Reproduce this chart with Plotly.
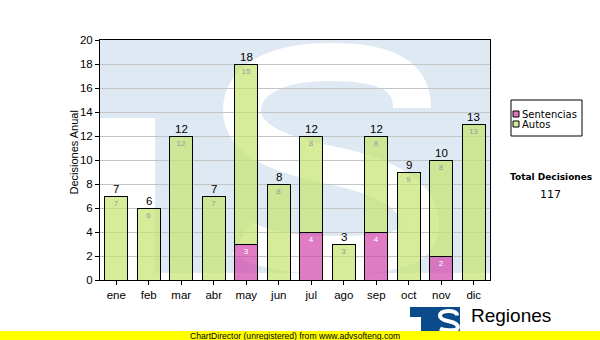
import plotly.graph_objects as go

# ---- data ----
months = ["ene", "feb", "mar", "abr", "may", "jun", "jul", "ago", "sep", "oct", "nov", "dic"]
sentencias = [0, 0, 0, 0, 3, 0, 4, 0, 4, 0, 2, 0]
autos = [7, 6, 12, 7, 15, 8, 8, 3, 8, 9, 8, 13]
series_names = ["Sentencias", "Autos"]
y_ticks = list(range(0, 21, 2))
y_title = "Decisiones Anual"
total_title = "Total Decisiones"

totals = [s + a for s, a in zip(sentencias, autos)]
grand_total = sum(totals)

# ---- geometry / style ----
W, H = 600, 340
ML, MR, MT, MB = 100, 110, 40, 60
PW, PH = W - ML - MR, H - MT - MB

PINK = "rgba(211,69,169,0.7)"
GREEN = "rgba(196,228,110,0.7)"
PINK_SWATCH = "#dd77bd"
GREEN_SWATCH = "#d5ec9a"
WM_BLUE = "#dfe9f3"
LOGO_BLUE = "#0b4a8b"
ARIAL = "Liberation Sans, Arial, sans-serif"
VERDANA = "DejaVu Sans, Verdana, sans-serif"


def px(x):
    return (x - ML) / PW


def py(y):
    return (MT + PH - y) / PH


# S-curve of the logo, as cubic bezier segments in pixel space
S_START = (412, 108)
S_CURVES = [
    [(412, 72), (380, 62), (330, 62)],
    [(272, 62), (242, 82), (242, 110)],
    [(242, 140), (280, 155), (330, 165)],
    [(385, 176), (420, 195), (420, 225)],
    [(420, 250), (390, 255), (330, 255)],
    [(292, 255), (262, 250), (242, 238)],
]


def s_path(ox=0.0, oy=0.0, k=1.0, cx=0.0, cy=0.0):
    def t(p):
        x = ox + (p[0] - cx) * k
        y = oy + (p[1] - cy) * k
        return f"{px(x):.5f},{py(y):.5f}"
    d = "M " + t(S_START)
    for seg in S_CURVES:
        d += " C " + " ".join(t(p) for p in seg)
    return d


def rect(x0, y0, x1, y1, fill, line_color=None, layer="below", lw=1):
    return dict(type="rect", xref="paper", yref="paper",
                x0=px(x0), x1=px(x1), y0=py(y1), y1=py(y0),
                fillcolor=fill, layer=layer,
                line=dict(color=line_color or fill, width=lw if line_color else 0))


shapes = [
    # watermark behind the bars
    rect(ML, MT, ML + PW, 273, WM_BLUE),
    rect(ML, 118, 155, 280, "white"),
    dict(type="path", xref="paper", yref="paper", path=s_path(0, 0, 1, 0, 0),
         line=dict(color="white", width=38), layer="below"),
    # legend box
    rect(511, 100, 582, 136, "white", "black", layer="above"),
    rect(513, 111, 519, 117, PINK_SWATCH, "black", layer="above"),
    rect(513, 121, 519, 127, GREEN_SWATCH, "black", layer="above"),
    # logo
    rect(410, 307, 460, 331, LOGO_BLUE, layer="above"),
    rect(410, 317, 421, 331, "white", layer="above"),
    dict(type="path", xref="paper", yref="paper",
         path=s_path(438, 309, 0.1, 222, 43),
         line=dict(color="white", width=4), layer="above"),
    # footer band
    rect(0, 331, 600, 340, "#ffff00", layer="above"),
]

fig = go.Figure()

fig.add_trace(go.Bar(
    x=months, y=sentencias, name=series_names[0],
    marker=dict(color=PINK, line=dict(color="black", width=1)),
    text=[str(v) if v else "" for v in sentencias],
    textposition="inside", insidetextanchor="end", textangle=0,
    textfont=dict(family=ARIAL, size=8, color="white"),
    showlegend=False, hoverinfo="x+y+name",
))
fig.add_trace(go.Bar(
    x=months, y=autos, name=series_names[1],
    marker=dict(color=GREEN, line=dict(color="black", width=1)),
    text=[str(v) if v else "" for v in autos],
    textposition="inside", insidetextanchor="end", textangle=0,
    textfont=dict(family=ARIAL, size=8, color="#9a9a9a"),
    showlegend=False, hoverinfo="x+y+name",
))

annotations = []
for m, t in zip(months, totals):
    annotations.append(dict(x=m, y=t, xref="x", yref="y", text=str(t),
                            showarrow=False, yanchor="bottom", yshift=-1,
                            font=dict(family=ARIAL, size=11.5, color="black")))

annotations += [
    dict(xref="paper", yref="paper", x=px(73.5), y=py(153), text=y_title,
         textangle=-90, showarrow=False, xanchor="center", yanchor="middle",
         font=dict(family=ARIAL, size=11, color="black")),
    dict(xref="paper", yref="paper", x=px(520), y=py(114), text=series_names[0],
         showarrow=False, xanchor="left", yanchor="middle",
         font=dict(family=VERDANA, size=10, color="black")),
    dict(xref="paper", yref="paper", x=px(520), y=py(124), text=series_names[1],
         showarrow=False, xanchor="left", yanchor="middle",
         font=dict(family=VERDANA, size=10, color="black")),
    dict(xref="paper", yref="paper", x=px(551), y=py(177), text=f"<b>{total_title}</b>",
         showarrow=False, xanchor="center", yanchor="middle",
         font=dict(family=VERDANA, size=9, color="black")),
    dict(xref="paper", yref="paper", x=px(550), y=py(194), text=str(grand_total),
         showarrow=False, xanchor="center", yanchor="middle",
         font=dict(family=VERDANA, size=11, color="black")),
    dict(xref="paper", yref="paper", x=px(469), y=py(315.5), text="Regiones",
         showarrow=False, xanchor="left", yanchor="middle",
         font=dict(family=ARIAL, size=19, color="black")),
    dict(xref="paper", yref="paper", x=px(295), y=py(335.5),
         text="ChartDirector (unregistered) from www.advsofteng.com",
         showarrow=False, xanchor="center", yanchor="middle",
         font=dict(family=ARIAL, size=8.6, color="black")),
]

fig.update_layout(
    width=W, height=H, autosize=False,
    margin=dict(l=ML, r=MR, t=MT, b=MB, pad=0),
    paper_bgcolor="white", plot_bgcolor="rgba(0,0,0,0)",
    barmode="stack", bargap=0.29,
    showlegend=False,
    shapes=shapes, annotations=annotations,
    xaxis=dict(type="category", categoryorder="array", categoryarray=months,
               showline=True, linecolor="black", linewidth=1, mirror=True,
               ticks="outside", ticklen=4, tickcolor="black", tickwidth=1,
               showgrid=False, zeroline=False,
               tickfont=dict(family=ARIAL, size=11.5, color="black")),
    yaxis=dict(range=[0, 20], tickvals=y_ticks, showgrid=True,
               gridcolor="#c4c4c4", gridwidth=1, zeroline=False,
               showline=True, linecolor="black", linewidth=1, mirror=True,
               ticks="outside", ticklen=4, tickcolor="black", tickwidth=1,
               tickfont=dict(family=ARIAL, size=11.5, color="black")),
)

fig.write_html("out.html")
